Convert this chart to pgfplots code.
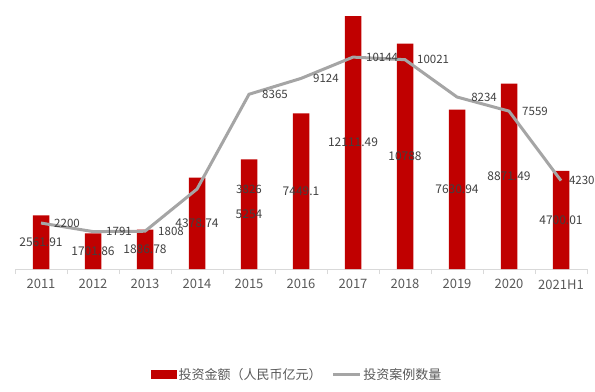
\documentclass[border=0pt]{standalone}
\usepackage{pgfplots}
\pgfplotsset{compat=1.18}
\usepackage{pgfplotstable}
\usepackage{fontspec}
\setmainfont{Noto Sans CJK SC}
\definecolor{barred}{HTML}{C00000}
\definecolor{linegray}{HTML}{A5A5A5}
\definecolor{txt}{HTML}{595959}
\definecolor{lbl}{HTML}{404040}
\definecolor{axgray}{HTML}{D9D9D9}
\pgfplotstableread{
x amt cnt
0 2561.91 2200
1 1701.86 1791
2 1886.78 1808
3 4378.74 3826
4 5254 8365
5 7449.1 9124
6 12111.49 10144
7 10788 10021
8 7630.94 8234
9 8871.49 7559
10 4700.01 4230
}\data
\begin{document}
\begin{tikzpicture}
\useasboundingbox (0,0) rectangle (595bp,392bp);
\begin{axis}[
 at={(15bp,123bp)}, anchor=south west,
 scale only axis, width=572bp, height=259bp,
 xmin=-0.5, xmax=10.5, ymin=0, ymax=12400,
 axis x line=bottom, axis y line=none,
 x axis line style={-, draw=axgray, line width=0.8bp},
 xtick={0,...,10},
 xticklabels={2011,2012,2013,2014,2015,2016,2017,2018,2019,2020,2021H1},
 major tick length=0pt,
 minor xtick={-0.5,0.5,...,10.5},
 minor tick length=5bp, tick align=outside,
 every minor tick/.append style={draw=axgray, line width=0.8bp},
 xticklabel style={font=\fontsize{13bp}{15bp}\selectfont, text=txt, yshift=-7bp},
 legend style={at={(0.493,-0.409)}, anchor=center, draw=none, fill=none,
   legend columns=2, font=\fontsize{13bp}{15bp}\selectfont, text=txt,
   /tikz/every even column/.append style={column sep=8bp}},
 clip=false,
]
\addplot[ybar, bar width=16.5bp, fill=barred, draw=none,
  legend image code/.code={\fill[barred] (0bp,-4.5bp) rectangle (26bp,4.5bp);}]
  table[x=x,y=amt]{\data};
\addlegendentry{投资金额（人民币亿元）}
\addplot[linegray, line width=3bp, mark=none,
  legend image code/.code={\draw[linegray, line width=3bp] (0bp,0bp) -- (27bp,0bp);}]
  table[x=x,y=cnt]{\data};
\addlegendentry{投资案例数量}
\addplot[draw=none, mark=none, forget plot, nodes near coords, point meta=explicit symbolic,
  every node near coord/.append style={anchor=center, font=\fontsize{12bp}{14bp}\selectfont, text=lbl}]
  table[x=x, y expr=\thisrow{amt}/2, meta=amt]{\data};
\addplot[draw=none, mark=none, forget plot, nodes near coords, point meta=explicit symbolic,
  every node near coord/.append style={anchor=center, font=\fontsize{11.5bp}{13bp}\selectfont, text=lbl}]
  coordinates {(0.50,2200)[2200] (1.50,1791)[1791] (2.50,1808)[1808] (4.00,3826)[3826]
   (4.50,8365)[8365] (5.48,9124)[9124] (6.56,10144)[10144] (7.54,10021)[10021]
   (8.52,8234)[8234] (9.50,7559)[7559] (10.40,4230)[4230]};
\end{axis}
\end{tikzpicture}
\end{document}
